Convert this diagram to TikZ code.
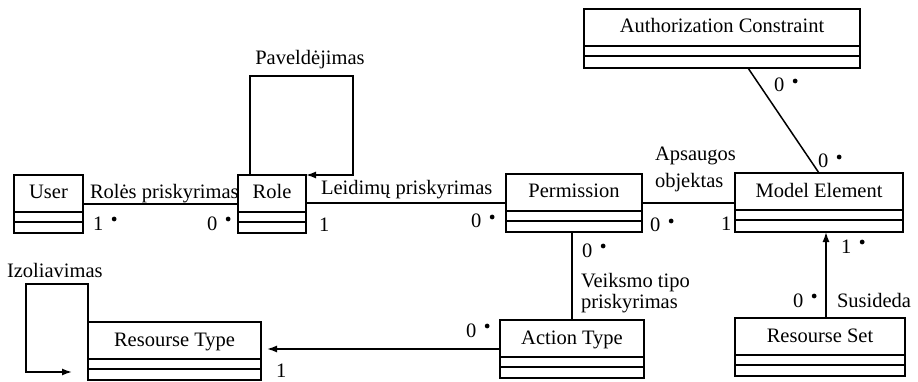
\documentclass[tikz,border=0pt]{standalone}
\usepackage{fontspec}
\setmainfont{Liberation Serif}
\usetikzlibrary{arrows.meta,calc,fit}

% one pixel of the layout grid = 1pt, y grows downwards
\tikzset{
  x=1pt, y=-1pt,
  txt/.style={inner sep=0pt, outer sep=0pt, font=\fontsize{20.5}{24}\selectfont},
  classframe/.style={draw, line width=1.8pt, inner sep=0pt, outer sep=0pt},
  classrule/.style={line width=1.8pt},
  classname/.style={txt, anchor=base},
  lbl/.style={txt, anchor=base west},
  assoc/.style={line width=1.5pt},
  nav/.style={assoc, -{Latex[length=10pt,width=7pt]}},
}

% multiplicity with a raised dot
\newcommand\mult[1]{#1\hspace{8.5pt}\tikz[baseline=0pt]\fill (0pt,11pt) circle (2.4pt);}

% UML class: name, left, top, right, bottom, title
\newcommand\umlclass[6]{%
  \coordinate (#1-nw) at (#2,#3);
  \coordinate (#1-se) at (#4,#5);
  \node[classframe, fit=(#1-nw)(#1-se)] (#1) {};
  \draw[classrule] (#2,#3+37) -- (#4,#3+37) (#2,#3+47) -- (#4,#3+47);
  \node[classname] (#1-name) at ({(#2+#4)/2},#3+24) {#6};
}

\begin{document}
\begin{tikzpicture}
\useasboundingbox (0,0) rectangle (918,382);

% classes
\umlclass{user}{14}{175}{83}{233}{User}
\umlclass{role}{238}{175}{306}{233}{Role}
\umlclass{perm}{506}{174}{642}{232}{Permission}
\umlclass{me}{735}{173}{903}{232}{Model Element}
\umlclass{ac}{584}{9}{860}{68}{Authorization Constraint}
\umlclass{rt}{88}{322}{261}{380}{Resourse Type}
\umlclass{at}{500}{320}{644}{378}{Action Type}
\umlclass{rs}{735}{318}{905}{376}{Resourse Set}

% User -- Role
\draw[assoc] (user.east) -- (role.west);
\node[lbl] (l-rp) at (90,199) {Rolės priskyrimas};
\node[lbl] (m-ur1) at (93,230) {\mult{1}};
\node[lbl] (m-ur2) at (207,230) {\mult{0}};

% Role -- Permission
\draw[assoc] (perm.west) -- (perm.west -| role.east);
\node[lbl] (l-lp) at (321,195) {Leidimų priskyrimas};
\node[lbl] (m-rp1) at (319,231) {1};
\node[lbl] (m-rp2) at (471,228) {\mult{0}};

% Role inheritance loop
\coordinate (inhTL) at (250,76);
\coordinate (inhTR) at (353,76);
\draw[nav] (role.north west -| inhTL) -- (inhTL) -- (inhTR) -- (inhTR |- role.north east) -- (role.north east);
\node[txt, anchor=base] (l-pav) at (310,65) {Paveldėjimas};

% Permission -- Model Element
\draw[assoc] (perm.east) -- (perm.east -| me.west);
\node[lbl] (l-ap1) at (655,161) {Apsaugos};
\node[lbl] (l-ap2) at (655,188) {objektas};
\node[lbl] (m-pm1) at (650,232) {\mult{0}};
\node[lbl] (m-pm2) at (721,230) {1};

% Authorization Constraint -- Model Element
\coordinate (acFoot) at ($(ac.south)+(26,0)$);
\draw[assoc] (acFoot) -- (me.north);
\node[lbl] (m-am1) at (774,92) {\mult{0}};
\node[lbl] (m-am2) at (818,168) {\mult{0}};

% Permission -- Action Type
\draw[assoc] (at.north) -- (at.north |- perm.south);
\node[lbl] (m-pa) at (582,257) {\mult{0}};
\node[lbl] (l-vt1) at (581,287) {Veiksmo tipo};
\node[lbl] (l-vt2) at (581,308) {priskyrimas};

% Action Type -> Resourse Type
\draw[nav, shorten >=6pt] (at.west) -- (at.west -| rt.east);
\node[lbl] (m-ar1) at (466,337) {\mult{0}};
\node[lbl] (m-ar2) at (276,377) {1};

% Resourse Type isolation loop
\coordinate (isoTR) at (88,284);
\coordinate (isoTL) at (26,284);
\coordinate (isoBL) at (26,372);
\draw[nav, shorten >=16pt] (rt.north west) -- (isoTR) -- (isoTL) -- (isoBL) -- (isoBL -| rt.west);
\node[lbl] (l-izo) at (7,277) {Izoliavimas};

% Resourse Set -> Model Element
\coordinate (rsTop) at ($(rs.north)+(6,0)$);
\draw[nav] (rsTop) -- (rsTop |- me.south);
\node[lbl] (m-rm1) at (841,253) {\mult{1}};
\node[lbl] (m-rm2) at (793,307) {\mult{0}};
\node[lbl] (l-sus) at (837,307) {Susideda};
\end{tikzpicture}
\end{document}
